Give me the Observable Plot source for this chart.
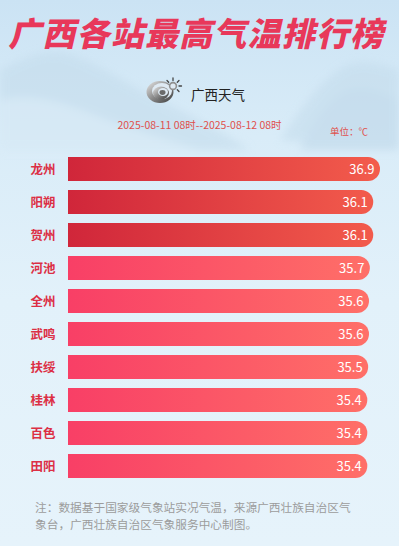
<!DOCTYPE html>
<html>
<head>
<meta charset="utf-8">
<script src="https://cdn.jsdelivr.net/npm/d3@7"></script>
<script src="https://cdn.jsdelivr.net/npm/@observablehq/plot@0.6"></script>
<style>
  html, body { margin: 0; padding: 0; }
  body { width: 399px; height: 546px; overflow: hidden; position: relative;
    font-family: "Noto Sans CJK SC", "Noto Sans", sans-serif;
    background: linear-gradient(180deg, #cbe3f4 0%, #d9ecf8 25%, #e2f1fa 55%, #e6f3fb 100%); }
  #bg { position: absolute; left: 0; top: 0; }
  .abs { position: absolute; white-space: nowrap; }
  #title { left: 0; width: 399px; top: 10px; text-align: center; font-size: 33px; font-weight: 900;
    color: #e8385a; letter-spacing: 1.2px; transform: skewX(-13deg); line-height: 44px; }
  #logoText { left: 191px; top: 85px; font-size: 13.5px; color: #222; line-height: 18px; }
  #date { left: 0; width: 399px; top: 118px; text-align: center; font-size: 10.5px; color: #e0504c; line-height: 14px; }
  #unit { left: 330px; top: 124px; font-size: 9.5px; color: #e0504c; line-height: 14px; }
  #chart { position: absolute; left: 0; top: 140px; }
  #note { left: 35px; top: 498px; font-size: 11.7px; color: #9c9c9c; line-height: 17px; }
</style>
</head>
<body>
<svg id="bg" width="399" height="546">
  <defs>
    <filter id="blur"><feGaussianBlur stdDeviation="4"/></filter>
    <linearGradient id="logoG" x1="0" x2="1" y1="0" y2="1">
      <stop offset="0" stop-color="#e8e8e8"/>
      <stop offset="0.5" stop-color="#8a8a8a"/>
      <stop offset="1" stop-color="#3a3a3a"/>
    </linearGradient>
  </defs>
  <g filter="url(#blur)" opacity="0.55">
    <path d="M0,70 C20,60 40,50 60,52 C90,58 120,80 160,100 C190,115 220,130 250,150 L0,150 Z" fill="#c3dbeb"/>
    <path d="M280,140 C300,110 320,80 345,66 C360,60 375,62 399,70 L399,150 Z" fill="#c3dbeb"/>
    <path d="M300,150 C320,110 335,95 350,90 C370,85 385,95 399,100 L399,150 Z" fill="#bcd5e7"/>
    <path d="M0,100 C40,90 80,110 120,125 C150,135 170,140 200,150 L0,150 Z" fill="#d6e8f4"/>
  </g>
  <g transform="translate(160,92)">
    <ellipse rx="13.5" ry="11" fill="url(#logoG)"/>
    <ellipse rx="10" ry="8" cx="2" cy="-1" fill="#dfeaf3"/>
    <ellipse rx="8" ry="6.5" cx="1" cy="1" fill="url(#logoG)"/>
    <ellipse rx="5" ry="4" cx="3" cy="0" fill="#dfeaf3"/>
    <ellipse rx="3" ry="2.4" cx="2.5" cy="0.5" fill="#6a6a6a"/>
    <circle r="4.2" cx="13" cy="-6" fill="#8f8f8f"/>
    <circle r="2.6" cx="13" cy="-6" fill="#dfeaf3"/>
    <g stroke="#444" stroke-width="1.3" stroke-linecap="round">
      <line x1="13" y1="-14" x2="13" y2="-11.5"/>
      <line x1="19" y1="-11.5" x2="17.3" y2="-9.8"/>
      <line x1="21.5" y1="-6" x2="19" y2="-6"/>
      <line x1="19" y1="-0.5" x2="17.3" y2="-2.2"/>
      <line x1="7" y1="-11.5" x2="8.7" y2="-9.8"/>
    </g>
  </g>
</svg>
<div id="title" class="abs">广西各站最高气温排行榜</div>
<div id="logoText" class="abs">广西天气</div>
<div id="date" class="abs">2025-08-11 08时--2025-08-12 08时</div>
<div id="unit" class="abs">单位：℃</div>
<div id="chart"></div>
<div id="note" class="abs">注：数据基于国家级气象站实况气温，来源广西壮族自治区气<br>象台，广西壮族自治区气象服务中心制图。</div>
<script>
const stations = ["龙州", "阳朔", "贺州", "河池", "全州", "武鸣", "扶绥", "桂林", "百色", "田阳"];
const temps = [36.9, 36.1, 36.1, 35.7, 35.6, 35.6, 35.5, 35.4, 35.4, 35.4];
const groups = ["top", "top", "top", "rest", "rest", "rest", "rest", "rest", "rest", "rest"];

const data = stations.map((s, i) => ({station: s, temp: temps[i], group: groups[i]}));
const top3 = data.filter(d => d.group === "top");
const rest = data.filter(d => d.group !== "top");

const W = 399, H = 350;
const xMax = d3.max(temps);

const chart = Plot.plot({
  width: W,
  height: H,
  marginLeft: 68,
  marginRight: 19,
  marginTop: 12.5,
  marginBottom: 7.5,
  style: {background: "transparent", overflow: "visible"},
  x: {domain: [0, xMax], axis: null},
  y: {domain: stations, paddingInner: 9 / 33, paddingOuter: 4.5 / 33, axis: null},
  marks: [
    Plot.barX(top3, {x: "temp", y: "station", fill: "url(#gTop)", rx: 12}),
    Plot.barX(top3, {x1: 0, x2: d => d.temp / 2, y: "station", fill: "url(#gTop)"}),
    Plot.barX(rest, {x: "temp", y: "station", fill: "url(#gRest)", rx: 12}),
    Plot.barX(rest, {x1: 0, x2: d => d.temp / 2, y: "station", fill: "url(#gRest)"}),
    Plot.text(data, {x: 0, y: "station", text: "station", textAnchor: "end", dx: -13,
      fill: "#dc2f45", fontSize: 12.5, fontWeight: "bold", fontFamily: "Noto Sans CJK SC"}),
    Plot.text(data, {x: "temp", y: "station", text: d => d.temp.toFixed(1), textAnchor: "end", dx: -6,
      fill: "white", fontSize: 13, fontFamily: "Noto Sans CJK SC"})
  ]
});

const xs = chart.scale("x");
const x0 = xs.apply(0), x1 = xs.apply(xMax);
const svg = d3.select(chart);
const defs = svg.insert("defs", ":first-child");
function grad(id, c0, c1) {
  const g = defs.append("linearGradient").attr("id", id)
    .attr("gradientUnits", "userSpaceOnUse")
    .attr("x1", x0).attr("x2", x1).attr("y1", 0).attr("y2", 0);
  g.append("stop").attr("offset", 0).attr("stop-color", c0);
  g.append("stop").attr("offset", 1).attr("stop-color", c1);
}
grad("gTop", "#d0263a", "#f35c4c");
grad("gRest", "#f83f66", "#ff7168");

document.getElementById("chart").appendChild(chart);
</script>
</body>
</html>
